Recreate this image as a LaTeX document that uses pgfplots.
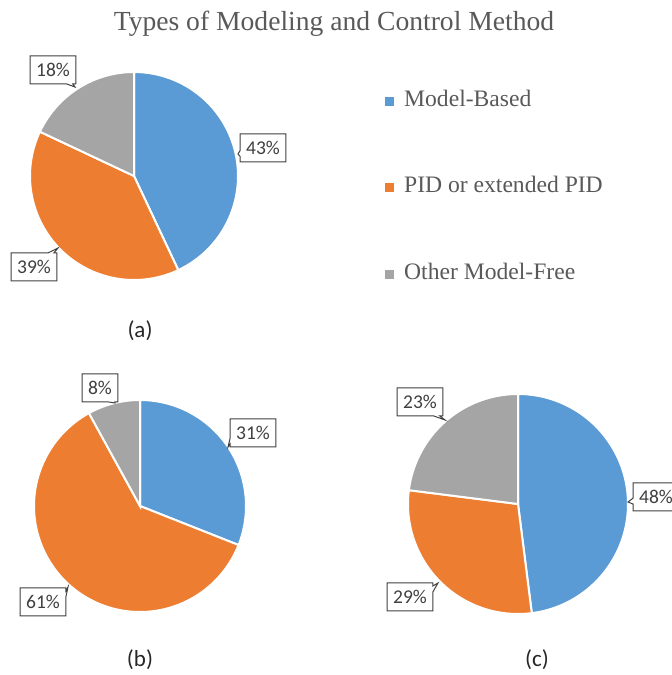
\documentclass[border=0pt]{standalone}
\usepackage{fontspec}
\setmainfont{Carlito}
\newfontfamily\serifttl{Liberation Serif}
\usepackage{pgfplots}
\pgfplotsset{compat=1.18}
\usetikzlibrary{shapes.callouts}
\definecolor{mb}{HTML}{5B9BD5}
\definecolor{pid}{HTML}{ED7D31}
\definecolor{mf}{HTML}{A5A5A5}
\definecolor{txt}{HTML}{595959}
\definecolor{lbl}{HTML}{404040}

\tikzset{
  lab/.style={rectangle callout, draw=lbl, line width=0.5pt, fill=white,
    text=lbl, font=\fontsize{9.75}{11}\selectfont,
    inner xsep=3pt, inner ysep=3.9pt, text height=6.2pt, text depth=0pt,
    callout pointer width=3pt},
  sub/.style={font=\fontsize{11.5}{13}\selectfont, text=black!85},
}

% one slice of a pie: cx cy r start end colour
\newcommand\slice[6]{%
  \edef\tmpslice{\noexpand\addplot[fill=#6, draw=white, line width=1pt,
    domain=#4:#5, samples=90, variable=\noexpand\t, forget plot]
   ({#1+#3*cos(\noexpand\t)},{#2+#3*sin(\noexpand\t)}) -- (axis cs:#1,#2) -- cycle;}%
  \tmpslice}
% a pie: cx cy r and the three shares (percent), clockwise from 12 o'clock
\newcommand\pie[6]{%
  \pgfmathsetmacro\aA{90}%
  \pgfmathsetmacro\aB{90-3.6*#4}%
  \pgfmathsetmacro\aC{\aB-3.6*#5}%
  \pgfmathsetmacro\aD{\aC-3.6*#6}%
  \slice{#1}{#2}{#3}{\aB}{\aA}{mb}%
  \slice{#1}{#2}{#3}{\aC}{\aB}{pid}%
  \slice{#1}{#2}{#3}{\aD}{\aC}{mf}%
}

\begin{document}
\begin{tikzpicture}
\begin{axis}[
  hide axis, scale only axis, clip=false,
  width=335.5pt, height=337.5pt,
  xmin=0, xmax=671, ymin=0, ymax=675,
  legend image code/.code={\fill[#1] (0pt,-2pt) rectangle (4pt,2pt);},
  legend cell align=left,
  legend style={at={(axis cs:385,587)}, anchor=north west, draw=none, fill=none,
    inner sep=0pt, row sep=30.25pt, column sep=4pt,
    font=\serifttl\fontsize{11.8}{13}\selectfont, text=txt,
    nodes={inner sep=1pt, text height=8pt, text depth=3pt}},
]
% (a)
\pie{134}{499}{104}{43}{39}{18}
% (b)
\pie{140}{169}{106}{31}{61}{8}
% (c)
\pie{518}{171}{110}{48}{29}{23}

\addlegendimage{mb}
\addlegendentry{Model-Based}
\addlegendimage{pid}
\addlegendentry{PID or extended PID}
\addlegendimage{mf}
\addlegendentry{Other Model-Free}

\node[font=\serifttl\fontsize{13.8}{16}\selectfont, text=txt, anchor=base]
  at (axis cs:334,644) {Types of Modeling and Control Method};

\node[lab, callout absolute pointer={(axis cs:238,521)}] at (axis cs:263,527) {43\%};
\node[lab, callout absolute pointer={(axis cs:75,588)}] at (axis cs:53,605) {18\%};
\node[lab, callout absolute pointer={(axis cs:58,427)}] at (axis cs:34,408) {39\%};

\node[lab, callout absolute pointer={(axis cs:115,272)}] at (axis cs:100,287) {8\%};
\node[lab, callout absolute pointer={(axis cs:228,228)}] at (axis cs:253,242) {31\%};
\node[lab, callout absolute pointer={(axis cs:68,88)}] at (axis cs:43,73) {61\%};

\node[lab, callout absolute pointer={(axis cs:445,255)}] at (axis cs:420,273) {23\%};
\node[lab, callout absolute pointer={(axis cs:628,173)}] at (axis cs:656,178) {48\%};
\node[lab, callout absolute pointer={(axis cs:438,92)}] at (axis cs:410,78) {29\%};

\node[sub] at (axis cs:140,344) {(a)};
\node[sub] at (axis cs:140,15) {(b)};
\node[sub] at (axis cs:537,15) {(c)};
\end{axis}
\pgfresetboundingbox
\path[use as bounding box] (0,0) rectangle (335.5pt,337.5pt);
\end{tikzpicture}
\end{document}
